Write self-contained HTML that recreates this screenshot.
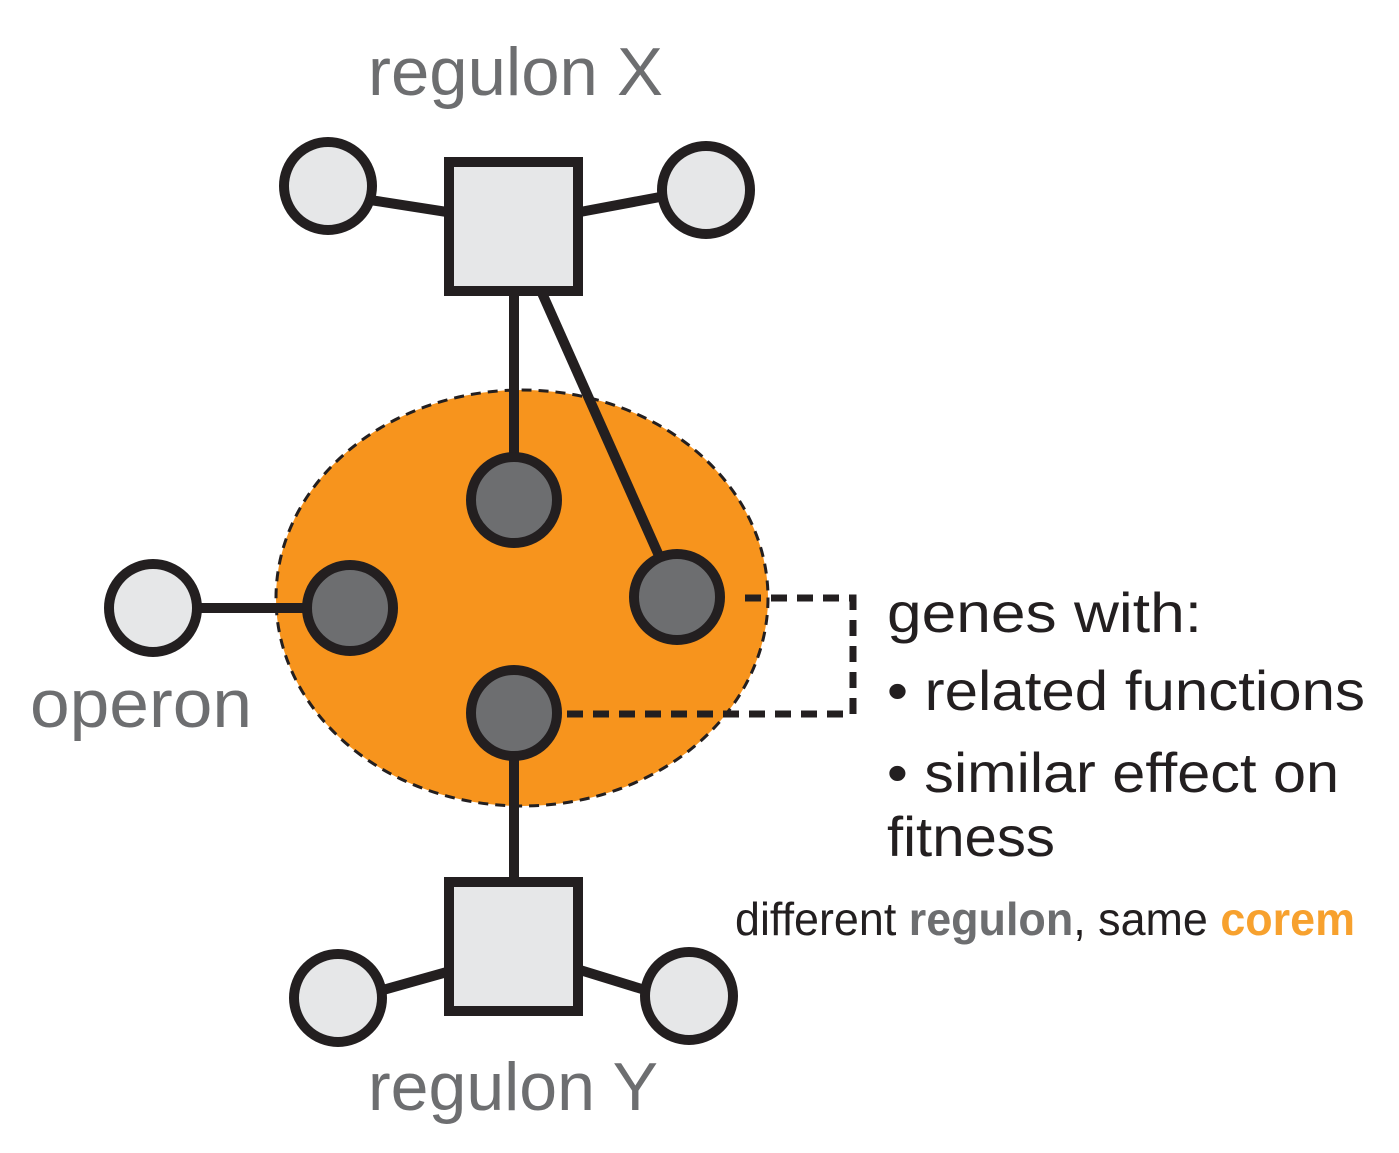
<!DOCTYPE html>
<html><head><meta charset="utf-8"><style>
html,body{margin:0;padding:0;background:#fff;}
svg{display:block;}
text{font-family:"Liberation Sans",sans-serif;}
</style></head><body>
<svg width="1399" height="1153" viewBox="0 0 1399 1153" xmlns="http://www.w3.org/2000/svg">
<ellipse cx="522" cy="598" rx="246" ry="208" fill="#f7941d" stroke="#231f20" stroke-width="3" stroke-dasharray="10,7"/>
<g stroke="#231f20" stroke-width="10" fill="none">
<line x1="370" y1="200" x2="447" y2="212"/>
<line x1="580" y1="212" x2="660" y2="197"/>
<line x1="514" y1="293" x2="514" y2="460"/>
<line x1="542" y1="293" x2="660" y2="558"/>
<line x1="198" y1="608" x2="305" y2="608"/>
<line x1="514" y1="758" x2="514" y2="880"/>
<line x1="383" y1="990" x2="447" y2="972"/>
<line x1="580" y1="970" x2="645" y2="990"/>
</g>
<g stroke="#231f20" stroke-width="7" fill="none" stroke-dasharray="16,10">
<polyline points="745,598 853,598 853,714 565,714"/>
</g>
<g stroke="#231f20" stroke-width="10" fill="#e6e7e8">
<rect x="449" y="162" width="129" height="129"/>
<rect x="449" y="882" width="129" height="129"/>
<circle cx="328" cy="186" r="44"/>
<circle cx="706" cy="190" r="44"/>
<circle cx="153" cy="608" r="44"/>
<circle cx="338" cy="998" r="44"/>
<circle cx="689" cy="996" r="44"/>
</g>
<g stroke="#231f20" stroke-width="10" fill="#6d6e70">
<circle cx="514" cy="500" r="43"/>
<circle cx="350" cy="608" r="43"/>
<circle cx="677" cy="597" r="43"/>
<circle cx="514" cy="713" r="43"/>
</g>
<g fill="#6d6e70" font-size="68">
<text x="368" y="95" textLength="295" lengthAdjust="spacingAndGlyphs">regulon X</text>
<text x="368" y="1110" textLength="290" lengthAdjust="spacingAndGlyphs">regulon Y</text>
<text x="30" y="727" textLength="222" lengthAdjust="spacingAndGlyphs">operon</text>
</g>
<g fill="#231f20" font-size="56">
<text x="887" y="632" textLength="315" lengthAdjust="spacingAndGlyphs">genes with:</text>
<text x="887" y="710" textLength="478" lengthAdjust="spacingAndGlyphs">• related functions</text>
<text x="887" y="792" textLength="452" lengthAdjust="spacingAndGlyphs">• similar effect on</text>
<text x="887" y="856" textLength="168" lengthAdjust="spacingAndGlyphs">fitness</text>
</g>
<text x="735" y="935" font-size="46" fill="#231f20" textLength="620" lengthAdjust="spacingAndGlyphs">different <tspan fill="#6d6e70" font-weight="bold">regulon</tspan>, same <tspan fill="#f7a12e" font-weight="bold">corem</tspan></text>
</svg>
</body></html>
